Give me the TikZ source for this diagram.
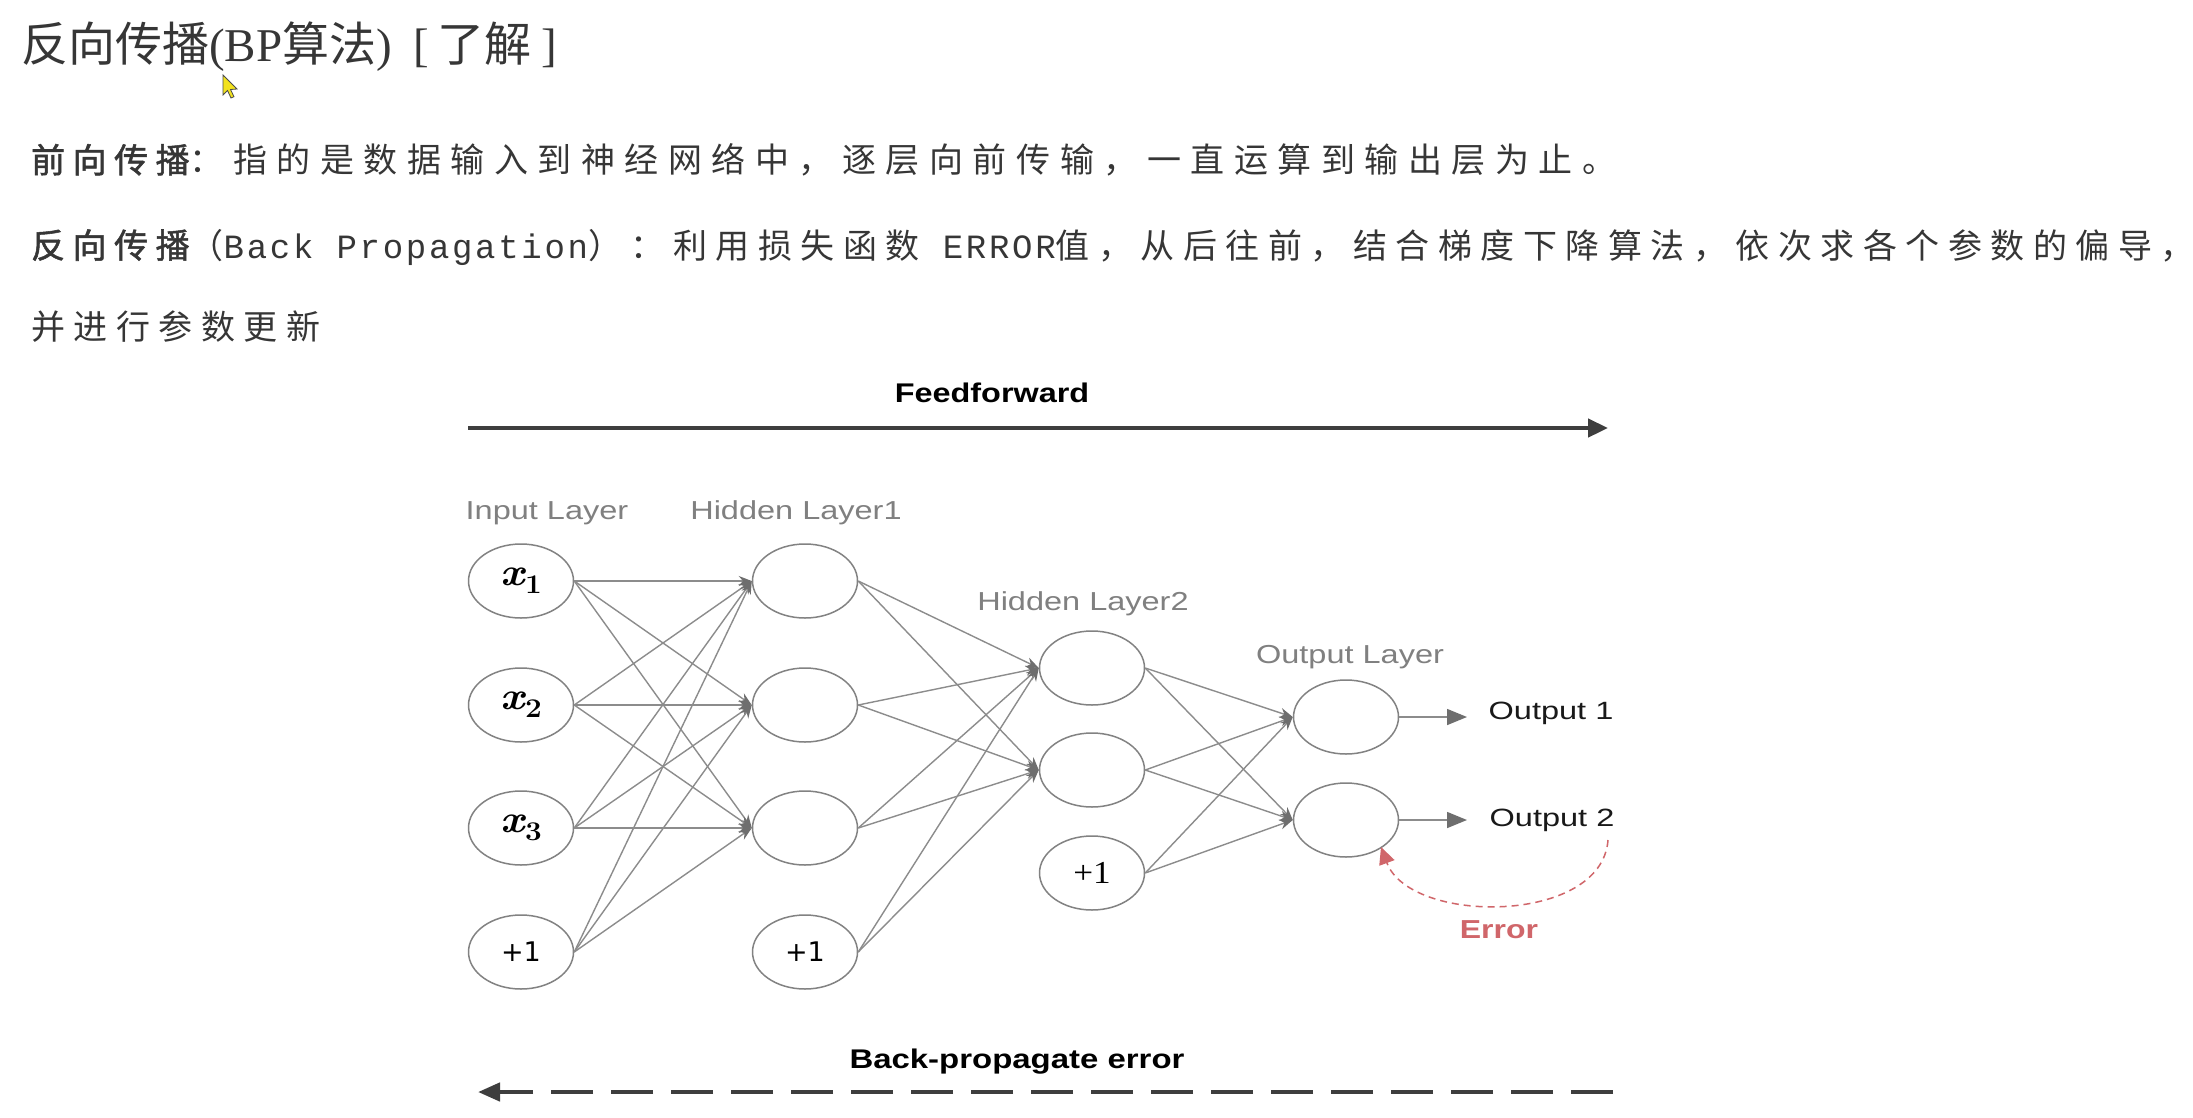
\documentclass[tikz,border=0pt]{standalone}
\usepackage{fontspec}
\usepackage{graphicx}
\usetikzlibrary{arrows.meta,shapes.geometric}
\newfontfamily\titlecjk{Noto Sans CJK SC}
\newfontfamily\titlelat{Liberation Serif}
\newfontfamily\cjkA[LetterSpace=28]{Noto Sans CJK SC}
\newfontfamily\cjkAb[LetterSpace=22,FakeBold=1.5]{Noto Sans CJK SC}
\newfontfamily\cjkB[LetterSpace=25]{Noto Sans CJK SC}
\newfontfamily\monof[LetterSpace=8]{Liberation Mono}
\newfontfamily\hv{Liberation Sans}
\newfontfamily\dvs{DejaVu Sans}
\newfontfamily\lsr{Liberation Serif}
\definecolor{txt}{HTML}{363636}
\definecolor{edgec}{HTML}{8C8C8C}
\definecolor{nodec}{HTML}{828282}
\definecolor{lab}{HTML}{808080}
\definecolor{arr}{HTML}{3E3E3E}
\definecolor{err}{HTML}{D0666A}
\definecolor{tipc}{HTML}{6E6E6E}
\definecolor{cursor}{HTML}{F2E21E}
\newcommand\sxx[2]{\scalebox{#1}[1]{#2}}
\newcommand\xin[1]{\scalebox{1.1}[1]{\rmfamily\bfseries\itshape\fontsize{39}{39}\selectfont x\kern1pt\raisebox{-8pt}{\upshape\fontsize{27}{27}\selectfont #1}}}
\begin{document}
\begin{tikzpicture}[x=1pt,y=-1pt,
  neuron/.style={ellipse, draw=nodec, line width=1.5pt, minimum width=105pt, minimum height=74pt, inner sep=0pt},
  edge/.style={draw=edgec, line width=1.4pt, -{Stealth[length=13pt,width=10pt,fill=tipc,color=tipc]}},
  outarrow/.style={draw=edgec, line width=1.5pt, -{Triangle[length=20pt,width=16pt,fill=tipc,color=tipc]}},
  lbl/.style={text=lab, font={\hv\fontsize{26}{26}\selectfont}, inner sep=0pt},
  bigarrow/.style={draw=arr, line width=4.5pt, -{Triangle[length=20pt,width=18pt]}},
  bigdash/.style={draw=arr, line width=4.5pt, dash pattern=on 42pt off 18pt, -{Triangle[length=22pt,width=18pt]}},
  heading/.style={text=black, font={\hv\bfseries\fontsize{27}{27}\selectfont}, inner sep=0pt},
  bodytext/.style={text=txt, anchor=west, inner sep=0pt}
]
\useasboundingbox (0,0) rectangle (2193,1117);
\fill[white] (0,0) rectangle (2193,1117);

% ---- texts at top ----
\node[bodytext] (title) at (21,47) {\fontsize{47}{50}\selectfont\titlecjk 反向传播\titlelat(BP\titlecjk 算法\titlelat)\hspace{22pt}[\hspace{8pt}\titlecjk 了解\hspace{10pt}\titlelat]};
\filldraw[fill=cursor, draw=black!70, line width=0.8pt] (223,75) -- (223,95) -- (227.5,90.5) -- (231,98) -- (234,96.7) -- (230.5,89.5) -- (237,89) -- cycle;

\node[bodytext] (l2) at (31,160) {\fontsize{34}{40}\selectfont{\cjkAb 前向传播}{\cjkA ：指的是数据输入到神经网络中，逐层向前传输，一直运算到输出层为止。}};
\node[bodytext] (l3) at (31,247) {\fontsize{34}{40}\selectfont{\cjkAb 反向传播}{\cjkB （}{\monof Back Propagation}{\cjkB ）：利用损失函数}{\monof\ ERROR}{\cjkB 值，从后往前，结合梯度下降算法，依次求各个参数的偏导，}};
\node[bodytext] (l4) at (31,327) {\fontsize{34}{40}\selectfont\cjkB 并进行参数更新};

% ---- feedforward / back-propagate ----
\node[heading] (ff) at (992,393) {\sxx{1.2}{Feedforward}};
\coordinate (ffa) at (468,428);
\coordinate (ffb) at (1608,428);
\draw[bigarrow] (ffa) -- (ffb);

\node[heading] (bp) at (1017,1062) {\sxx{1.22}{Back-propagate error}};
\coordinate (bpa) at (1613,1092);
\coordinate (bpb) at (478,1092);
\draw[bigdash] (bpa) -- (bpb);

% ---- layer labels ----
\node[lbl] (lin) at (547,513) {\sxx{1.25}{Input Layer}};
\node[lbl] (lh1) at (796,513) {\sxx{1.25}{Hidden Layer1}};
\node[lbl] (lh2) at (1083,604) {\sxx{1.25}{Hidden Layer2}};
\node[lbl] (lout) at (1350,657) {\sxx{1.25}{Output Layer}};

% ---- neurons ----
\node[neuron] (i1) at (521,581) {\xin{1}};
\node[neuron] (i2) at (521,705) {\xin{2}};
\node[neuron] (i3) at (521,828) {\xin{3}};
\node[neuron] (i4) at (521,952) {\dvs\fontsize{27}{27}\selectfont +1};
\node[neuron] (h1) at (805,581) {};
\node[neuron] (h2) at (805,705) {};
\node[neuron] (h3) at (805,828) {};
\node[neuron] (h4) at (805,952) {\dvs\fontsize{27}{27}\selectfont +1};
\node[neuron] (g1) at (1092,668) {};
\node[neuron] (g2) at (1092,770) {};
\node[neuron] (g3) at (1092,873) {\lsr\fontsize{32}{32}\selectfont\sxx{1.1}{+1}};
\node[neuron] (o1) at (1346,717) {};
\node[neuron] (o2) at (1346,820) {};

% ---- connections ----
\foreach \s in {i1,i2,i3,i4} \foreach \t in {h1,h2,h3} \draw[edge] (\s.east) -- (\t.west);
\foreach \s in {h1,h2,h3,h4} \foreach \t in {g1,g2} \draw[edge] (\s.east) -- (\t.west);
\foreach \s in {g1,g2,g3} \foreach \t in {o1,o2} \draw[edge] (\s.east) -- (\t.west);

% ---- outputs ----
\coordinate (t1) at (1467,717);
\coordinate (t2) at (1467,820);
\draw[outarrow] (o1.east) -- (t1);
\draw[outarrow] (o2.east) -- (t2);
\node[inner sep=0pt, text=black!90, font={\hv\fontsize{25}{25}\selectfont}] (out1) at (1551,713) {\sxx{1.3}{Output 1}};
\node[inner sep=0pt, text=black!90, font={\hv\fontsize{25}{25}\selectfont}] (out2) at (1552,820) {\sxx{1.3}{Output 2}};

% ---- error ----
\coordinate (e1) at (1608,840);
\coordinate (e2) at (1381,847);
\draw[draw=err, line width=1.5pt, dash pattern=on 7pt off 5pt, -{Triangle[length=17pt,width=16pt,fill=err,color=err]}] (e1) .. controls (1602,925) and (1410,925) .. (e2);
\node[inner sep=0pt, text=err, font={\hv\bfseries\fontsize{26}{26}\selectfont}] (errlbl) at (1499,930) {\sxx{1.23}{Error}};
\end{tikzpicture}
\end{document}
